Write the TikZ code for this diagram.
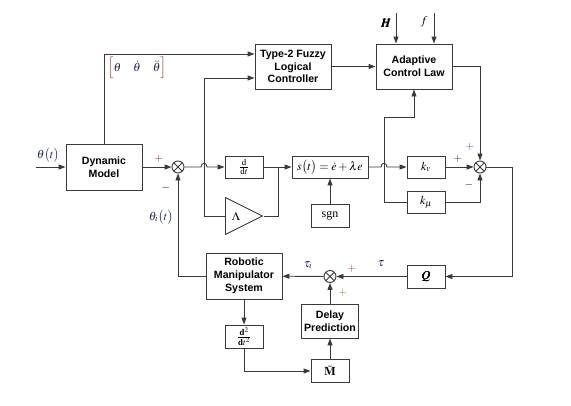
\documentclass[tikz,border=0pt]{standalone}
\usepackage{amsmath}
\usepackage{mathptmx}
\usepackage{bm}
\usepackage{fontspec}
\setmainfont{Liberation Serif}
\setsansfont{Liberation Sans}
\usetikzlibrary{calc}
\usetikzlibrary{positioning}
\usetikzlibrary{arrows.meta}
\usetikzlibrary{shapes.geometric}

\definecolor{linegray}{HTML}{3A3A3A}
\definecolor{mathblue}{HTML}{1F2A5C}
\definecolor{brkred}{HTML}{7A2A1A}
\definecolor{plusred}{HTML}{B03030}
\definecolor{plusblue}{HTML}{2A5AA8}
\definecolor{plusolive}{HTML}{8A7A20}

\begin{document}
\begin{tikzpicture}[x=1pt,y=-1pt,color=linegray,line width=0.9pt,
        >={Triangle[length=7pt,width=5pt]},
        block/.style={draw=linegray,fill=white,text=black,inner sep=1pt,align=center,
            font=\sffamily\bfseries\fontsize{10.6}{12.8}\selectfont},
        mblock/.style={draw=linegray,fill=white,text=black,inner sep=1pt,
            font=\fontsize{12}{14}\selectfont},
        sumnode/.style={circle,draw=linegray,fill=white,minimum size=12pt,inner sep=0pt,
            path picture={\draw[linegray,line width=0.8pt]
                (path picture bounding box.north west) -- (path picture bounding box.south east)
                (path picture bounding box.north east) -- (path picture bounding box.south west);}},
        lbl/.style={text=mathblue,inner sep=0pt,font=\fontsize{12}{14}\selectfont},
        sgnlbl/.style={inner sep=0pt,font=\fontsize{11}{12}\selectfont}]
    \useasboundingbox (0,0) rectangle (571,405);

    % blocks
    \node[block,minimum width=76pt,minimum height=46pt] (dyn) at (104,167) {Dynamic\\Model};
    \node[block,minimum width=76pt,minimum height=45pt] (fuzzy) at (293,66.5) {Type-2 Fuzzy\\Logical\\Controller};
    \node[block,minimum width=76pt,minimum height=45pt] (adapt) at (414,66.5) {Adaptive\\Control Law};
    \node[mblock,minimum width=38pt,minimum height=22pt] (ddt) at (244,167) {$\frac{\mathrm{d}}{\mathrm{d}t}$};
    \node[mblock,minimum width=76pt,minimum height=22pt] (sbox) at (330,167) {$s\bigl(t\bigr)=\dot{e}+\lambda e$};
    \node[mblock,minimum width=38pt,minimum height=23pt] (sgn) at (330,216) {sgn};
    \node[mblock,minimum width=38pt,minimum height=22pt] (kv) at (426,167) {$k_v$};
    \node[mblock,minimum width=38pt,minimum height=22pt] (kmu) at (426,202) {$k_\mu$};
    \node[mblock,minimum width=38pt,minimum height=23pt] (Q) at (426,276.5) {$\boldsymbol{Q}$};
    \node[block,minimum width=76pt,minimum height=46pt] (robot) at (244,276) {Robotic\\Manipulator\\System};
    \node[block,minimum width=57pt,minimum height=34pt] (delay) at (330,321) {Delay\\Prediction};
    \node[mblock,minimum width=38pt,minimum height=23pt] (Mbar) at (330,371) {$\bar{\mathbf{M}}$};
    \node[mblock,minimum width=38pt,minimum height=23pt] (d2) at (244,336.5) {$\frac{\mathbf{d}^2}{\mathbf{d}t^2}$};
    \node[isosceles triangle,isosceles triangle stretches,draw=linegray,text=black,
        minimum width=37pt,minimum height=37pt,inner sep=0pt,anchor=lower side,
        font=\fontsize{12}{14}\selectfont] (lam) at (225,216) {$\Lambda$};

    % summing junctions
    \node[sumnode] (sum1) at (178,167) {};
    \node[sumnode] (sum2) at (480,167) {};
    \node[sumnode] (sum3) at (330,276.5) {};

    % helper points
    \coordinate (thin) at (36,167);
    \coordinate (hopA) at (204,167);
    \coordinate (eA) at (204,216);
    \coordinate (jA) at (278,167);
    \coordinate (hopB) at (384,167);
    \coordinate (adA) at (384,117);
    \coordinate (Hin) at (396,13);
    \coordinate (fin) at (434,13);
    \coordinate (qturn) at (512,276.5);

    % connectors
    \draw[->] (thin) -- (dyn);
    \draw[->] (dyn) -- (sum1);
    \draw[->] (dyn.north) |- ([yshift=12.5pt]fuzzy.west);
    \draw[->] (lam.lower side) -- (eA) |- ([yshift=-11.5pt]fuzzy.west);
    \draw[->] (sum1) -- ($(hopA)+(-3,0)$) .. controls ($(hopA)+(-3,-5)$) and ($(hopA)+(3,-5)$) .. ($(hopA)+(3,0)$) -- (ddt);
    \draw[->] (ddt) -- (sbox);
    \draw (lam.apex) -| (jA);
    \draw[->] (sgn) -- (sbox);
    \draw[->] (sbox) -- ($(hopB)+(-3,0)$) .. controls ($(hopB)+(-3,-5)$) and ($(hopB)+(3,-5)$) .. ($(hopB)+(3,0)$) -- (kv);
    \draw[->] (kmu.west) -| (adA) -| (adapt.south);
    \draw[->] (fuzzy) -- (adapt);
    \draw[->] (Hin) -- (Hin |- adapt.north);
    \draw[->] (fin) -- (fin |- adapt.north);
    \draw[->] (adapt.east) -| (sum2.north);
    \draw[->] (kv) -- (sum2);
    \draw[->] (kmu.east) -| (sum2.south);
    \draw[->] (sum2.east) -| (qturn) -- (Q);
    \draw[->] (Q) -- (sum3);
    \draw[->] (sum3) -- (robot);
    \draw[->] (delay) -- (sum3);
    \draw[->] (Mbar) -- (delay);
    \draw[->] (robot) -- (d2);
    \draw[->] (d2.south) |- (Mbar.west);
    \draw[->] (robot.west) -| (sum1.south);

    % labels
    \node[lbl] (thlbl) at (48,155) {$\theta\bigl(t\bigr)$};
    \node[lbl] (vec) at (137,68) {$\textcolor{brkred}{\Bigl[}\theta\quad\dot{\theta}\quad\ddot{\theta}\textcolor{brkred}{\Bigr]}$};
    \node[lbl] (thi) at (161,217) {$\theta_i\bigl(t\bigr)$};
    \node[lbl,text=black] (Hlbl) at (386,23) {$\boldsymbol{H}$};
    \node[lbl,text=black] (flbl) at (424,22) {$f$};
    \node[lbl] (tau) at (381,264) {$\tau$};
    \node[lbl] (taui) at (308,265) {$\tau_i$};
    \node[sgnlbl,text=brkred] at (159,159) {$+$};
    \node[sgnlbl,text=black] at (166,188) {$-$};
    \node[sgnlbl,text=plusblue] at (470,147) {$+$};
    \node[sgnlbl,text=mathblue] at (458,159) {$+$};
    \node[sgnlbl,text=black] at (469,185) {$-$};
    \node[sgnlbl,text=plusred] at (352,269) {$+$};
    \node[sgnlbl,text=plusolive] at (343,293) {$+$};
\end{tikzpicture}
\end{document}
